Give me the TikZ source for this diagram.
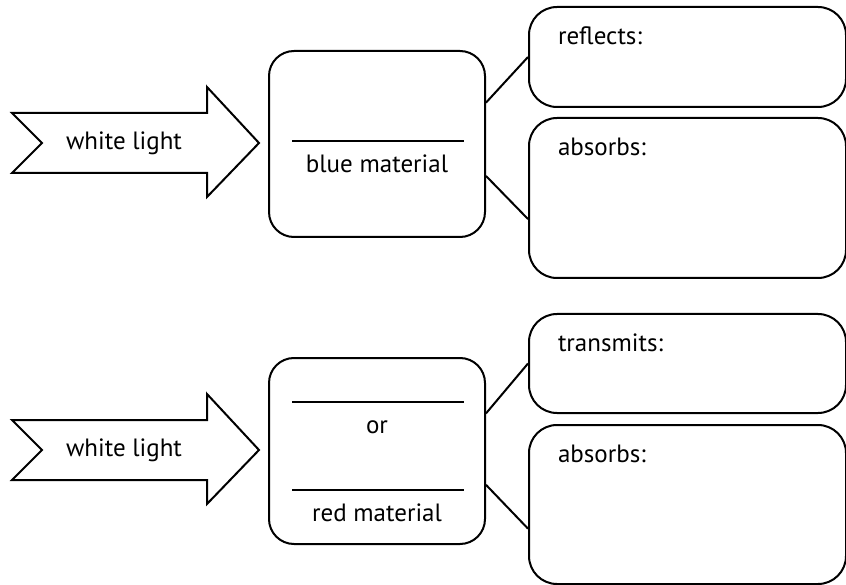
\documentclass[tikz,border=0pt]{standalone}
\usepackage{fontspec}
\setmainfont{PT Sans}
\usetikzlibrary{calc}

\begin{document}
\begin{tikzpicture}[
      x=1pt, y=-1pt,
      line width=2pt, % Default line thickness
      lightarrow/.style={line join=miter}, % white light arrow
      matbox/.style={draw, rectangle, rounded corners=25pt, anchor=north west,
        inner sep=0pt, minimum width=216pt, minimum height=186pt},
      answerbox/.style={draw, rectangle, rounded corners=28pt, anchor=north west,
        inner sep=0pt, minimum width=317pt},
      txt/.style={font=\fontsize{25}{30}\selectfont, inner sep=0pt},
      link/.style={line width=1.6pt},
    ]
    \useasboundingbox (0,0) rectangle (846,585);

    % Pfeile "white light"
    \foreach \y/\name in {143/lightA, 450/lightB}
    {
      \draw[lightarrow] (12,\y-30) -- (207,\y-30) -- (207,\y-56) -- (259,\y)
        -- (207,\y+54) -- (207,\y+30) -- (12,\y+30) -- (42,\y) -- cycle;
      \node[txt] (\name) at (124,\y) {white light};
    }

    % Materialien
    \node[matbox] (matA) at (268,50) {};
    \node[matbox] (matB) at (268,357) {};

    \coordinate (lineAl) at ($(matA.north west)+(24,91)$);
    \coordinate (lineAr) at ($(matA.north east)+(-22,91)$);
    \draw[link] (lineAl) -- (lineAr);
    \node[txt] (blue) at ($(matA.north)+(0,114)$) {blue material};

    \coordinate (lineBl) at ($(matB.north west)+(24,45)$);
    \coordinate (lineBr) at ($(matB.north east)+(-22,45)$);
    \coordinate (lineCl) at ($(matB.north west)+(24,133)$);
    \coordinate (lineCr) at ($(matB.north east)+(-22,133)$);
    \draw[link] (lineBl) -- (lineBr);
    \draw[link] (lineCl) -- (lineCr);
    \node[txt] (or) at ($(matB.north)+(0,70)$) {or};
    \node[txt] (red) at ($(matB.north)+(0,156)$) {red material};

    % Antwortfelder
    \node[answerbox, minimum height=100pt] (reflects) at (528,6) {};
    \node[answerbox, minimum height=160pt] (absorbsA) at (528,117) {};
    \node[answerbox, minimum height=99pt] (transmits) at (528,313) {};
    \node[answerbox, minimum height=159pt] (absorbsB) at (528,424) {};

    \foreach \fld/\lbl in {reflects/reflects:, absorbsA/absorbs:,
                           transmits/transmits:, absorbsB/absorbs:}
    \node[txt, anchor=west] (\fld-text) at ($(\fld.north west)+(29,30)$) {\lbl};

    % Verbindungen
    \draw ($(matA.north east)!0.28!(matA.south east)$) -- (reflects.west);
    \draw ($(matA.north east)!0.67!(matA.south east)$)
      -- ($(absorbsA.north west)!0.63!(absorbsA.south west)$);
    \draw ($(matB.north east)!0.30!(matB.south east)$) -- (transmits.west);
    \draw ($(matB.north east)!0.68!(matB.south east)$)
      -- ($(absorbsB.north west)!0.65!(absorbsB.south west)$);
  \end{tikzpicture}
\end{document}
